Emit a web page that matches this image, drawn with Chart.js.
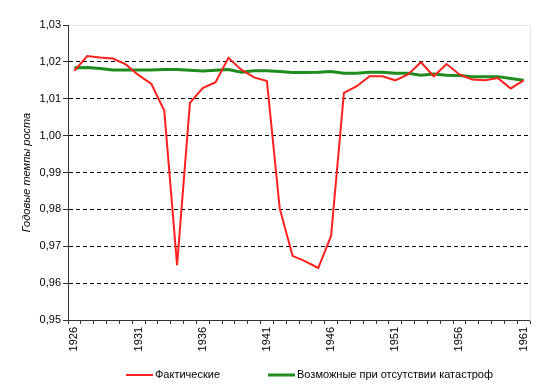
<!DOCTYPE html>
<html><head><meta charset="utf-8">
<script src="https://cdn.jsdelivr.net/npm/chart.js@4/dist/chart.umd.min.js"></script>
<style>html,body{margin:0;padding:0;background:#fff}#wrap{width:545px;height:392px}</style>
</head><body><div id="wrap"><canvas id="c" width="545" height="392"></canvas></div>
<script>
const years = ['1926','1927','1928','1929','1930','1931','1932','1933','1934','1935','1936','1937','1938','1939','1940','1941','1942','1943','1944','1945','1946','1947','1948','1949','1950','1951','1952','1953','1954','1955','1956','1957','1958','1959','1960','1961'];
const xTickLabels = ['1926','1931','1936','1941','1946','1951','1956','1961'];
const actual = [1.0176,1.0216,1.0212,1.0209,1.0193,1.0164,1.0140,1.0068,0.9649,1.0089,1.0129,1.0145,1.0211,1.0179,1.0158,1.0148,0.9802,0.9674,0.9659,0.9641,0.9728,1.0116,1.0134,1.0161,1.0161,1.0150,1.0166,1.0199,1.0161,1.0194,1.0166,1.0152,1.0150,1.0156,1.0128,1.0150];
const noCatastrophe = [1.0184,1.0185,1.0182,1.0178,1.0178,1.0178,1.0178,1.0179,1.0179,1.0177,1.0175,1.0177,1.0179,1.0172,1.0176,1.0176,1.0174,1.0171,1.0171,1.0172,1.0174,1.0169,1.0169,1.0172,1.0172,1.0169,1.0169,1.0164,1.0167,1.0164,1.0163,1.0160,1.0160,1.0160,1.0155,1.0150];
const yMin = 0.95, yMax = 1.03, yStep = 0.01;
const seriesNames = ['Фактические', 'Возможные при отсутствии катастроф'];
const yTitle = 'Годовые темпы роста';

const FONT = '"Liberation Sans", Arial, sans-serif';

const bottomLegend = {
  id: 'bottomLegend',
  afterDraw(chart) {
    const ctx = chart.ctx;
    ctx.save();
    ctx.font = '11px ' + FONT;
    ctx.textBaseline = 'middle';
    ctx.textAlign = 'left';
    let x = 126;
    const y = chart.chartArea.bottom + 55;
    chart.data.datasets.forEach(ds => {
      ctx.strokeStyle = ds.borderColor;
      ctx.lineWidth = ds.borderWidth;
      ctx.beginPath();
      ctx.moveTo(x, y);
      ctx.lineTo(x + 27, y);
      ctx.stroke();
      x += 29;
      ctx.fillStyle = '#000';
      ctx.fillText(ds.label, x, y);
      x += ctx.measureText(ds.label).width + 48;
    });
    ctx.restore();
  }
};

const near = (a, b) => Math.abs(a - b) < 1e-6;

new Chart(document.getElementById('c'), {
  type: 'line',
  data: {
    labels: years,
    datasets: [
      { label: seriesNames[0], data: actual, borderColor: '#ff2020', borderWidth: 2, pointRadius: 0, tension: 0, fill: false },
      { label: seriesNames[1], data: noCatastrophe, borderColor: '#1f8c1f', borderWidth: 3, pointRadius: 0, tension: 0, fill: false }
    ]
  },
  options: {
    responsive: false,
    animation: false,
    devicePixelRatio: 1,
    layout: { padding: { top: 25, right: 15, left: 0, bottom: 0 } },
    plugins: { legend: { display: false }, tooltip: { enabled: false } },
    scales: {
      x: {
        type: 'category',
        position: 'bottom',
        offset: true,
        grid: { display: true, drawOnChartArea: false, offset: true, tickLength: 4, color: '#333' },
        border: { color: '#333', width: 1 },
        ticks: {
          autoSkip: false, minRotation: 90, maxRotation: 90, padding: 3, color: '#000',
          font: { family: FONT, size: 11 },
          callback: function (v) { const lab = this.getLabelForValue(v); return xTickLabels.includes(lab) ? lab : ''; }
        },
        afterFit: s => { s.height = 72; }
      },
      xTop: {
        type: 'category',
        position: 'top',
        offset: true,
        grid: { display: false },
        ticks: { display: false },
        border: { color: '#e6e6e6', width: 1 },
        afterFit: s => { s.height = 0; }
      },
      y: {
        type: 'linear',
        position: 'left',
        min: yMin, max: yMax,
        ticks: {
          stepSize: yStep, padding: 2, color: '#000',
          font: { family: FONT, size: 11 },
          callback: v => v.toFixed(2).replace('.', ',')
        },
        grid: {
          color: c => (c.tick && (near(c.tick.value, yMax) || near(c.tick.value, yMin))) ? 'rgba(0,0,0,0)' : '#000',
          tickColor: '#333', tickLength: 5, lineWidth: 1
        },
        border: { color: '#333', width: 1, dash: [4, 3] },
        title: { display: true, text: yTitle, color: '#000', font: { family: FONT, size: 11, style: 'italic' }, padding: { top: 20, bottom: 0 } },
        afterFit: s => { s.width = 68; }
      },
      yRight: {
        type: 'linear',
        position: 'right',
        grid: { display: false },
        ticks: { display: false },
        border: { color: '#e6e6e6', width: 1 },
        afterFit: s => { s.width = 0; }
      }
    }
  },
  plugins: [bottomLegend]
});
</script>
</body></html>
